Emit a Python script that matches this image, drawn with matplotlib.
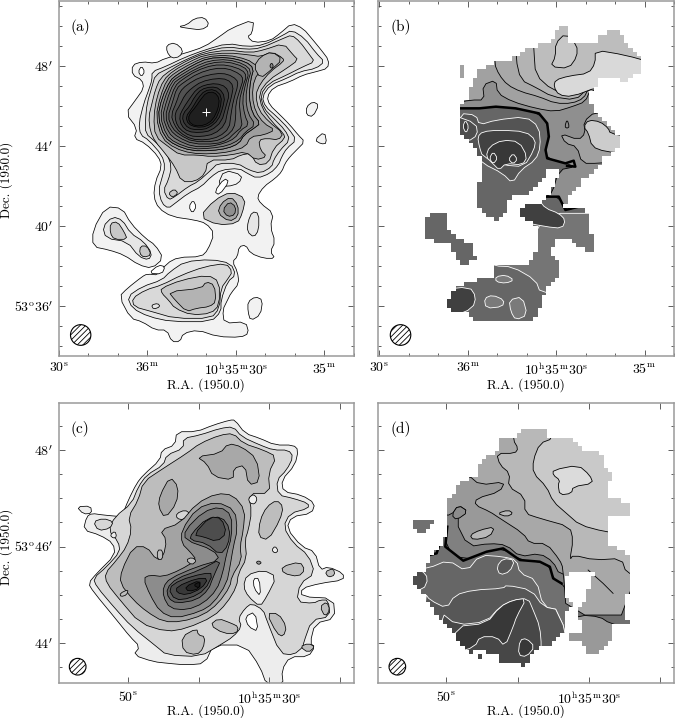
import numpy as np
import matplotlib
matplotlib.use("Agg")
import matplotlib.pyplot as plt
from matplotlib.patches import Polygon, Ellipse
from matplotlib.path import Path

plt.rcParams['font.family'] = ['cmr10', 'DejaVu Serif']
plt.rcParams['mathtext.fontset'] = 'cm'
plt.rcParams['axes.unicode_minus'] = False
plt.rcParams['hatch.linewidth'] = 0.6

# all outlines below are read off the scanned maps, in map pixels
# map pixels -> sky goes through the (x0, xscale, y0, yscale) of each map

# --- map (a): integrated intensity, outer to inner
a_grays = [.95, .90, .85, .78, .70, .62, .55, .49, .44, .40, .36, .32, .28, .24, .20, .16, .12]
a_main = [
 [(400,195),(430,185),(470,190),(500,175),(560,160),(620,140),(665,110),(700,85),(770,58),(765,100),(750,110),(770,128),(820,122),(850,100),(885,70),(920,85),(950,120),(975,150),(998,180),(995,205),(960,215),(920,225),(880,245),(830,262),(810,290),(818,315),(850,345),(880,375),(905,405),(925,425),(900,450),(880,470),(865,490),(855,515),(835,535),(800,560),(780,590),(790,610),(830,640),(820,680),(835,725),(820,755),(835,775),(800,775),(760,760),(745,735),(725,740),(720,770),(705,785),(720,815),(725,850),(700,880),(690,900),(675,930),(680,970),(745,965),(755,1000),(730,1012),(660,1010),(600,990),(555,1000),(545,1025),(520,1025),(505,990),(470,990),(430,965),(395,955),(360,890),(385,865),(430,830),(445,822),(480,825),(505,790),(540,772),(610,770),(630,750),(650,700),(625,670),(590,660),(520,650),(480,625),(465,590),(470,545),(490,500),(480,470),(440,430),(405,415),(415,385),(380,340),(410,300),(435,265),(430,240),(400,225)],
 [(460,215),(500,200),(560,172),(620,150),(690,130),(750,140),(800,135),(860,105),(885,90),(925,115),(960,160),(985,185),(960,205),(910,215),(870,235),(820,255),(795,290),(805,320),(840,350),(875,385),(900,420),(870,445),(855,470),(845,495),(820,520),(780,535),(750,520),(725,505),(670,510),(640,530),(610,560),(570,580),(530,610),(510,625),(490,610),(480,570),(490,535),(500,500),(490,465),(450,420),(425,405),(420,370),(435,310),(450,270),(460,240)],
 [(470,225),(510,205),(565,178),(620,155),(690,140),(745,148),(790,145),(860,115),(885,105),(910,125),(940,165),(955,185),(920,200),(870,225),(815,250),(790,285),(800,325),(830,355),(865,390),(880,420),(850,450),(830,480),(825,500),(790,520),(755,510),(720,490),(660,490),(640,510),(600,545),(570,560),(530,590),(510,600),(495,570),(510,540),(520,500),(505,460),(470,425),(440,400),(440,360),(445,310),(460,260)],
 [(485,235),(520,208),(570,180),(620,160),(690,150),(760,158),(800,150),(860,130),(890,165),(905,180),(870,205),(815,240),(785,280),(795,325),(825,365),(860,400),(865,415),(830,445),(815,490),(780,495),(760,460),(730,465),(700,480),(630,480),(622,522),(590,545),(550,545),(530,500),(500,460),(470,425),(455,395),(450,350),(460,310),(470,270)],
 [(495,240),(525,212),(575,185),(620,165),(690,158),(760,165),(790,170),(825,155),(860,175),(860,185),(820,215),(790,250),(775,285),(785,330),(815,365),(860,400),(845,420),(810,415),(785,420),(790,450),(810,470),(775,480),(745,455),(700,465),(640,470),(600,465),(545,465),(510,440),(470,410),(465,350),(475,290)],
 [(505,240),(530,218),(580,190),(625,170),(690,165),(750,178),(775,195),(795,205),(770,240),(765,290),(775,335),(800,370),(835,390),(800,405),(760,410),(745,440),(700,455),(640,462),(580,460),(530,445),(490,415),(472,350),(485,290)],
 [(515,242),(535,225),(585,195),(630,175),(690,172),(745,185),(770,205),(760,240),(755,290),(765,340),(790,370),(770,385),(740,405),(725,430),(690,445),(640,452),(580,452),(530,435),(497,410),(478,350),(490,295)],
 [(520,245),(540,230),(590,200),(635,182),(690,178),(740,192),(762,212),(752,245),(745,295),(752,340),(775,375),(745,395),(725,420),(690,437),(640,445),(585,447),(530,428),(503,405),(485,350),(497,298)],
 [(525,250),(545,235),(592,207),(640,188),(690,185),(740,200),(755,220),(745,250),(735,300),(742,345),(755,375),(730,390),(712,415),(680,430),(635,440),(585,440),(535,420),(510,398),(492,350),(505,300)],
 [(530,258),(550,240),(595,212),(645,195),(690,195),(735,210),(748,228),(738,255),(725,305),(730,350),(735,380),(710,400),(690,420),(655,432),(585,432),(540,412),(515,390),(500,350),(513,305)],
 [(535,265),(555,248),(600,220),(650,205),(690,205),(728,222),(738,238),(730,262),(715,310),(715,350),(710,385),(685,410),(650,425),(585,425),(545,405),(522,385),(508,350),(522,308)],
 [(545,275),(565,255),(605,232),(655,220),(690,222),(718,238),(722,255),(708,300),(700,345),(695,385),(665,410),(625,420),(580,418),(545,398),(528,375),(518,345),(535,305)],
 [(560,285),(580,265),(610,245),(655,235),(690,238),(708,258),(702,290),(690,335),(682,375),(650,402),(610,410),(575,408),(545,388),(532,365),(530,340),(545,315)],
 [(575,295),(595,268),(620,255),(655,250),(685,260),(695,285),(685,320),(672,365),(640,392),(605,398),(570,395),(550,378),(543,350),(555,325)],
 [(590,290),(610,268),(640,260),(665,265),(682,290),(675,325),(662,360),(632,385),(600,390),(570,385),(553,362),(555,340),(575,318)],
 [(600,295),(620,272),(650,268),(672,288),(668,325),(652,362),(625,380),(595,382),(570,372),(563,350),(582,325)],
 [(607,300),(625,278),(650,276),(665,295),(662,325),(645,360),(620,376),(590,378),(572,365),(572,345),(592,322)],
]
# (gray, outline) for everything off the main peak
a_islands = [
 (.95, [(280,690),(320,620),(370,625),(395,670),(440,715),(470,735),(495,775),(460,805),(420,795),(375,765),(330,750),(280,740)]),
 (.90, [(310,680),(340,650),(370,660),(395,700),(435,725),(460,760),(450,780),(420,770),(385,725),(320,715)]),
 (.78, [(333,670),(355,665),(375,695),(385,718),(345,718),(333,700)]),
 (.78, [(425,738),(445,738),(458,765),(435,772),(422,760)]),
 (1.0, [(450,820),(480,795),(500,800),(490,822)]),
 (.95, [(540,80),(565,75),(590,55),(620,52),(635,75),(610,90),(570,85)]),
 (.95, [(505,135),(530,128),(555,150),(545,170),(520,175),(505,155)]),
 (1.0, [(418,215),(428,198),(438,215),(428,230)]),
 (.95, [(930,320),(950,305),(968,315),(950,350),(930,345)]),
 (.95, [(955,420),(985,395),(992,430),(975,432)]),
 (.95, [(752,905),(775,890),(797,900),(790,945),(760,962),(752,935)]),
 (.90, [(385,890),(430,860),(490,840),(515,815),(560,785),(640,778),(700,790),(715,825),(690,845),(670,900),(670,935),(640,965),(520,965),(450,950),(400,925)]),
 (.85, [(400,895),(440,870),(490,855),(550,825),(620,800),(685,790),(705,815),(690,838),(670,865),(665,925),(640,955),(530,955),(460,935),(405,920)]),
 (.78, [(487,865),(550,840),(630,825),(665,845),(665,915),(640,940),(580,945),(530,925),(510,900),(490,880)]),
 (.70, [(510,875),(610,865),(625,845),(650,855),(655,905),(635,920),(595,925),(565,935),(530,900)]),
 (.90, [(458,915),(478,910),(485,920),(465,928)]),
 (.90, [(752,665),(765,635),(785,640),(785,690),(770,712),(750,695)]),
 (.78, [(605,650),(650,600),(700,575),(745,595),(735,640),(720,670),(660,675)]),
 (.66, [(660,640),(670,610),(700,590),(722,615),(722,650),(695,665)]),
 (.56, [(675,630),(695,605),(715,620),(712,645),(690,650)]),
 (.78, [(510,580),(528,567),(540,580),(522,592)]),
 (1.0, [(572,620),(585,600),(595,620),(583,640)]),
 (.95, [(680,510),(735,525),(725,550),(690,560),(660,555)]),
 (1.0, [(650,575),(680,535),(695,545),(665,585)]),
 (.70, [(790,170),(825,155),(858,178),(820,212),(790,235),(770,200)]),
 (.55, [(818,198),(824,188),(830,198),(824,206)]),
]
a_cross = [(623, 335)]

# --- map (c)
c_islands = [
 (.93, [(690,150),(705,150),(735,190),(780,205),(825,225),(880,225),(895,240),(885,285),(845,330),(850,365),(905,375),(945,400),(935,430),(875,440),(860,475),(905,530),(945,545),(960,600),(985,590),(1030,610),(1030,630),(960,640),(905,655),(905,680),(1000,685),(1005,745),(945,760),(930,820),(945,830),(925,860),(870,860),(845,900),(850,945),(800,945),(780,890),(735,825),(640,825),(615,880),(560,885),(505,880),(460,875),(400,855),(420,830),(390,800),(350,750),(280,665),(265,640),(290,610),(345,555),(340,520),(300,495),(250,480),(260,440),(275,430),(310,435),(365,440),(385,390),(410,340),(430,315),(480,270),(485,240),(525,225),(530,185),(590,185),(640,165)]),
 (.93, [(230,410),(272,408),(275,430),(250,432)]),
 (.84, [(700,170),(725,200),(780,225),(820,240),(865,240),(880,260),(860,300),(830,330),(835,375),(880,385),(925,400),(925,415),(870,430),(850,470),(880,520),(925,555),(945,610),(900,640),(890,695),(940,700),(960,690),(985,690),(990,740),(935,750),(910,820),(910,830),(880,855),(840,850),(800,750),(790,720),(755,700),(735,715),(715,745),(725,770),(700,800),(660,825),(600,860),(500,855),(470,830),(395,770),(345,715),(290,650),(280,625),(320,590),(360,545),(355,515),(325,480),(345,440),(395,400),(415,350),(440,315),(490,285),(500,255),(550,235),(550,205),(600,195),(660,175)]),
 (.84, [(280,455),(310,445),(340,455),(330,475),(295,482)]),
 (.74, [(430,335),(490,295),(560,250),(600,220),(660,195),(700,190),(730,220),(790,240),(830,260),(805,310),(810,370),(745,370),(755,425),(745,480),(735,510),(740,565),(715,610),(710,650),(680,700),(640,740),(560,775),(500,785),(420,760),(360,690),(320,640),(315,610),(350,570),(380,530),(395,480),(385,440),(415,390)]),
 (.66, [(590,260),(660,250),(685,220),(725,230),(770,265),(780,335),(745,345),(735,285),(700,295),(700,330),(640,320),(620,280)]),
 (.66, [(480,375),(510,320),(535,350),(530,400),(495,445),(475,410)]),
 (.84, [(530,430),(555,420),(570,430),(550,450),(530,445)]),
 (.64, [(365,600),(400,530),(440,530),(470,570),(490,560),(500,510),(480,480),(540,460),(590,400),(650,370),(700,375),(735,420),(730,480),(720,530),(725,570),(695,620),(690,650),(655,700),(610,735),(545,755),(490,755),(440,725),(400,690),(360,640)]),
 (.74, [(472,540),(488,540),(488,568),(472,568)]),
 (.74, [(360,670),(385,658),(380,675),(362,680)]),
 (.55, [(430,625),(450,615),(490,620),(540,600),(590,570),(570,545),(545,520),(545,480),(590,415),(650,395),(705,420),(712,480),(700,530),(690,590),(680,640),(640,700),(600,725),(525,745),(480,725),(450,675)]),
 (.47, [(490,650),(510,625),(590,590),(660,570),(640,540),(555,510),(555,480),(610,425),(660,410),(695,435),(695,500),(680,550),(668,610),(650,660),(610,700),(560,720),(510,715),(490,680)]),
 (.74, [(558,570),(575,562),(590,572),(575,585)]),
 (.38, [(575,490),(620,445),(665,440),(690,475),(685,525),(660,555),(620,520),(570,510)]),
 (.38, [(500,655),(530,625),(600,600),(665,565),(640,620),(625,660),(590,690),(530,700),(505,685)]),
 (.30, [(580,495),(630,440),(665,445),(680,490),(650,515),(610,500)]),
 (.30, [(505,655),(540,630),(610,610),(640,610),(615,660),(570,685),(525,690)]),
 (.22, [(530,650),(590,625),(625,625),(605,655),(560,675),(530,668)]),
 (.15, [(555,650),(600,630),(600,655),(565,665)]),
 (.10, [(580,645),(600,635),(598,655)]),
 (.93, [(330,495),(345,483),(350,500),(340,505)]),
 (.93, [(745,385),(760,372),(772,385),(765,402),(750,400)]),
 (.74, [(780,450),(800,410),(830,390),(850,410),(840,450),(805,510),(775,500)]),
 (.93, [(815,540),(825,528),(835,542),(825,550)]),
 (.60, [(768,577),(776,572),(785,578),(776,584)]),
 (.74, [(845,590),(900,575),(915,600),(895,620),(850,610)]),
 (.74, [(975,605),(1000,595),(1005,615),(985,622)]),
 (.74, [(960,710),(980,695),(990,720),(975,740)]),
 (.74, [(900,830),(925,820),(945,830),(925,848)]),
 (.74, [(800,730),(835,730),(860,770),(850,800),(830,790)]),
 (.74, [(545,800),(590,775),(595,795),(615,800),(610,835),(590,855),(550,845)]),
 (.74, [(630,765),(655,745),(695,760),(715,770),(710,790),(670,790)]),
 (.93, [(740,615),(790,600),(830,620),(800,680),(780,710),(745,680),(730,650)]),
 (1.0, [(760,625),(778,625),(782,680),(762,655)]),
 (1.0, [(735,740),(765,725),(775,785),(745,770)]),
]

# --- map (b): region kept after the signal cut, then bands (gray, line colour, outline)
b_regions = [
 [(660,78),(690,90),(690,130),(780,125),(780,105),(800,100),(840,90),(855,120),(880,150),(915,180),(905,215),(860,245),(830,240),(780,240),(760,270),(745,300),(770,340),(810,380),(845,415),(830,450),(790,480),(765,510),(730,540),(690,590),(670,620),(690,625),(735,625),(750,655),(745,680),(765,730),(765,755),(745,762),(715,735),(690,720),(645,720),(635,755),(660,795),(660,825),(620,860),(610,905),(585,960),(470,970),(400,960),(385,935),(340,935),(320,920),(335,870),(390,845),(460,830),(460,798),(570,795),(585,765),(600,730),(600,685),(570,665),(540,655),(545,620),(605,605),(640,565),(660,520),(640,505),(625,515),(590,560),(555,590),(500,595),(495,655),(465,660),(430,640),(408,600),(410,565),(430,530),(430,490),(415,460),(385,415),(360,405),(360,320),(385,290),(395,245),(415,215),(470,185),(520,175),(560,150),(640,120)],
 [(270,635),(318,632),(318,670),(345,710),(395,735),(405,770),(420,778),(390,780),(385,795),(360,795),(350,770),(330,730),(260,720),(250,680),(260,650)],
 [(360,195),(372,195),(372,235),(360,235)],
]
b_base = .40
b_bands = [
 (.56, 'k', [(340,325),(420,325),(470,320),(530,325),(600,340),(625,370),(630,410),(620,450),(625,475),(680,490),(710,500),(660,510),(640,580),(620,590),(660,590),(680,632),(720,620),(950,620),(950,60),(340,60)]),
 (.63, 'k', [(340,310),(395,300),(435,300),(430,255),(470,240),(475,280),(520,305),(590,325),(650,335),(700,320),(740,305),(755,270),(950,200),(950,60),(340,60)]),
 (.66, 'k', [(465,60),(465,190),(480,225),(505,255),(545,275),(600,290),(650,310),(700,310),(735,295),(750,265),(950,200),(950,60)]),
 (.70, 'k', [(530,60),(530,175),(545,240),(590,262),(640,290),(710,300),(745,268),(950,200),(950,60)]),
 (.74, 'k', [(580,60),(585,155),(590,225),(640,270),(710,290),(750,250),(950,200),(950,60)]),
 (.78, 'k', [(650,130),(650,170),(635,200),(690,205),(715,170),(715,135),(680,100)]),
 (.85, 'k', [(645,260),(650,240),(690,228),(750,220),(770,190),(770,150),(860,165),(950,190),(950,260),(780,260),(700,290),(660,285)]),
 (.63, 'k', [(665,400),(680,430),(715,440),(730,490),(780,490),(900,480),(900,330),(770,335),(735,365),(740,400),(720,420)]),
 (.80, 'k', [(735,380),(750,360),(785,365),(810,385),(815,400),(870,410),(870,460),(800,455),(760,440),(750,400)]),
 (.56, 'k', [(678,380),(685,358),(692,380),(685,385)]),
 (.46, 'w', [(465,798),(520,800),(590,840),(605,880),(700,880),(800,700),(800,640),(620,640),(590,700),(440,780)]),
 (.33, 'w', [(360,340),(410,345),(420,375),(470,360),(560,350),(600,380),(605,440),(590,480),(545,510),(520,550),(490,520),(430,490),(350,420)]),
 (.26, 'w', [(415,410),(430,395),(480,390),(560,395),(590,420),(585,450),(555,500),(490,495),(430,470),(420,440)]),
 (.22, 'w', [(450,440),(490,420),(540,425),(565,470),(550,495),(500,490),(480,510),(460,490),(440,470)]),
 (.22, 'w', [(450,475),(462,455),(475,475),(462,492)]),
 (.22, 'w', [(508,478),(522,460),(535,478),(522,492)]),
 (.30, 'w', [(340,345),(410,370),(415,405),(385,425),(340,410)]),
 (.22, 'w', [(370,380),(378,360),(388,380),(380,400)]),
 (.25, 'w', [(300,870),(390,860),(410,890),(400,925),(340,950),(300,950)]),
 (.25, 'w', [(620,625),(660,640),(680,660),(670,685),(620,680),(520,660),(520,610),(600,600)]),
 (.48, 'w', [(435,895),(460,885),(495,900),(490,920),(440,925)]),
 (.48, 'w', [(510,900),(550,890),(565,945),(530,960),(515,935)]),
 (.48, 'w', [(470,830),(500,825),(525,840),(500,850),(470,845)]),
]
b_thick = [
 [(360,325),(420,325),(470,320),(530,325),(600,340),(625,370),(630,410),(620,450),(625,475),(680,490),(705,482),(710,500),(685,498)],
 [(620,590),(660,590),(680,630),(720,620)],
]

# --- map (d)
d_regions = [
 [(560,178),(620,178),(620,205),(700,205),(730,235),(780,240),(795,290),(815,320),(800,335),(800,380),(865,395),(865,430),(800,430),(800,520),(810,530),(860,540),(865,640),(850,740),(875,760),(850,765),(815,765),(815,800),(790,830),(775,855),(745,855),(735,820),(685,815),(680,795),(725,785),(720,760),(710,715),(740,690),(745,640),(770,605),(690,605),(670,620),(670,680),(695,700),(670,725),(670,780),(640,815),(600,830),(550,885),(480,880),(480,860),(420,840),(385,850),(340,790),(300,750),(255,680),(240,655),(215,640),(215,620),(260,595),(265,560),(300,530),(325,470),(325,395),(360,330),(410,320),(410,285),(480,235),(480,200),(535,205),(535,185)],
 [(217,445),(280,445),(288,460),(240,490),(217,475)],
 [(408,850),(420,850),(420,870),(408,870)],
]
d_base = .44
d_bands = [
 (.50, 'k', [(250,430),(322,470),(316,530),(370,572),(440,545),(490,535),(540,570),(600,575),(630,590),(640,625),(665,640),(680,660),(900,660),(900,150),(200,150),(200,430)]),
 (.60, 'k', [(300,435),(335,435),(355,405),(385,425),(345,450),(385,530),(450,520),(500,525),(540,560),(600,550),(640,575),(660,615),(900,700),(900,150),(300,150)]),
 (.66, 'k', [(360,330),(385,315),(420,345),(495,335),(480,365),(410,385),(405,405),(450,425),(480,445),(550,490),(570,520),(620,520),(660,570),(670,595),(680,735),(900,735),(900,150),(360,150)]),
 (.60, 'k', [(720,735),(780,740),(810,760),(860,770),(900,800),(900,900),(660,900),(680,760)]),
 (.72, 'k', [(520,150),(520,210),(535,235),(525,250),(470,250),(480,285),(510,310),(505,350),(555,380),(555,430),(600,445),(690,470),(700,510),(690,570),(700,555),(765,570),(845,565),(860,610),(900,610),(900,150)]),
 (.79, 'k', [(640,150),(640,205),(600,220),(580,270),(580,310),(620,350),(640,395),(680,430),(720,465),(795,485),(900,500),(900,150)]),
 (.86, 'k', [(640,300),(715,285),(750,315),(760,340),(700,350),(695,370),(660,375),(655,345),(660,330),(640,315)]),
 (.72, 'k', [(390,495),(420,480),(465,470),(450,500),(400,510)]),
 (.72, 'k', [(472,430),(505,420),(520,430),(500,440)]),
 (.55, 'k', [(335,435),(355,405),(385,425),(350,450)]),
 (.40, 'w', [(200,600),(265,595),(325,570),(380,605),(420,555),(490,560),(530,570),(540,610),(590,630),(610,710),(660,720),(700,900),(200,900)]),
 (.34, 'w', [(470,590),(490,565),(525,570),(510,605),(480,615)]),
 (.34, 'w', [(255,670),(270,690),(320,715),(345,675),(400,660),(490,655),(500,645),(575,660),(610,710),(660,720),(700,900),(250,900)]),
 (.28, 'w', [(300,725),(350,765),(440,755),(480,710),(520,690),(565,685),(580,720),(600,770),(605,830),(600,900),(300,900)]),
 (.22, 'w', [(345,770),(440,760),(480,710),(520,690),(560,685),(530,740),(520,770),(495,830),(470,800),(420,800),(405,830),(345,850)]),
 (.22, 'w', [(535,855),(540,810),(560,805),(585,830),(560,860)]),
 (.30, 'w', [(200,600),(245,600),(265,625),(250,660),(200,660)]),
]
d_thick = [
 [(322,470),(316,530),(370,572),(440,545),(490,535),(540,570),(600,575),(630,590),(640,625),(665,640)],
 [(268,555),(290,550),(298,525)],
]
# thin black contour in the east part of (d) that closes nothing
d_thin = [(745,600),(790,640),(820,670)]

# map pixel scales and frame edges
a_wcs = (985, 8.98, 198, 60.0)
b_wcs = (919, 8.90, 198, 60.0)
c_wcs = (808+30*21.25, 21.25, 241, 144.25)
d_wcs = (747+30*21.37, 21.37, 241, 144.25)
frame_top = (1.5, 1068)
frame_low = (98, 938)

top_ra_ticks = [90, 60, 30, 0]
top_ra_labels = [r'30$^{\rm s}$', r'36$^{\rm m}$', r'10$^{\rm h}$35$^{\rm m}$30$^{\rm s}$', r'35$^{\rm m}$']
top_dec_ticks = [48, 44, 40, 36]
top_dec_labels = [r"48$'$", r"44$'$", r"40$'$", r"53$^{\rm o}$36$'$"]
low_ra_ticks = [50, 40, 30, 20]
low_ra_labels = [r'50$^{\rm s}$', '', r'10$^{\rm h}$35$^{\rm m}$30$^{\rm s}$', '']
low_dec_ticks = [48, 46, 44]
low_dec_labels = [r"48$'$", r"53$^{\rm o}$46$'$", r"44$'$"]


def sky(pts, wcs, dec0):
    pts = np.array(pts, dtype=float)
    ra = (wcs[0]-pts[:, 0])/wcs[1]
    dec = dec0-(pts[:, 1]-wcs[2])/wcs[3]
    return np.column_stack([ra, dec])


def rounded(pts, n=1):
    # corner cutting, the contours in the scan are round not angular
    p = np.array(pts, dtype=float)
    for i in range(n):
        q = np.roll(p, -1, axis=0)
        p = np.column_stack([0.75*p+0.25*q, 0.25*p+0.75*q]).reshape(-1, 2)
    return p


def frame(ax, wcs, dec0, xl, xr, yr):
    lim = sky([(xl, yr[1]), (xr, yr[0])], wcs, dec0)
    ax.set_xlim(lim[0, 0], lim[1, 0])
    ax.set_ylim(lim[0, 1], lim[1, 1])
    for s in ax.spines.values():
        s.set_color('#9a9a9a')
        s.set_linewidth(1.1)
    ax.tick_params(which='both', direction='in', top=True, right=True, color='#444444', width=0.6)
    ax.tick_params(which='major', length=4.5, labelsize=10, pad=4)
    ax.tick_params(which='minor', length=2.5)


def beam(ax, wcs, dec0, x, y, r):
    c = sky([(x, y)], wcs, dec0)[0]
    ax.add_patch(Ellipse(c, 2*r/wcs[1], 2*r/wcs[3], facecolor='white', edgecolor='k',
                         hatch='//////', linewidth=0.8, zorder=4))


def blocks(ax, wcs, dec0, regions, xl, xr, yr):
    # the masked maps are pixelated, keep that look with coarse cells
    size = 13
    xs = np.arange(xl, xr+size, size)
    ys = np.arange(yr[0], yr[1]+size, size)
    gx, gy = np.meshgrid(xs[:-1]+size/2, ys[:-1]+size/2)
    cells = np.column_stack([gx.ravel(), gy.ravel()])
    keep = np.zeros(len(cells), dtype=bool)
    for r in regions:
        keep |= Path(r).contains_points(cells)
    keep = keep.reshape(gx.shape)
    rgba = np.ones(keep.shape+(4,))
    rgba[keep, 3] = 0
    e = sky([(xs[0], ys[-1]), (xs[-1], ys[0])], wcs, dec0)
    ax.imshow(rgba, extent=(e[0, 0], e[1, 0], e[0, 1], e[1, 1]), origin='upper', aspect='auto',
              interpolation='nearest', zorder=1.5)


def bands(ax, wcs, dec0, base, band_list, thick):
    ax.set_facecolor(str(base))
    for g, col, pts in band_list:
        ax.add_patch(Polygon(sky(rounded(pts), wcs, dec0), closed=True, facecolor=str(g), edgecolor=col,
                             linewidth=0.6, zorder=1))
    for line in thick:
        xy = sky(line, wcs, dec0)
        ax.plot(xy[:, 0], xy[:, 1], color='k', lw=1.8, zorder=1.2)


def contour_patch(ax, g, pts, wcs):
    ax.add_patch(Polygon(sky(rounded(pts), wcs, 48), closed=True, facecolor=str(g), edgecolor='k', linewidth=0.55))


W, H = 675, 718
fig = plt.figure(figsize=(W/100, H/100), dpi=100)


def make_ax(l, r, t, b):
    return fig.add_axes([l/W, 1-b/H, (r-l)/W, (b-t)/H])


axa = make_ax(58.5, 354, 0.5, 356)
axb = make_ax(377.7, 674, 0.5, 356)
axc = make_ax(58.5, 354, 402.7, 682.7)
axd = make_ax(377.7, 674, 402.7, 682.7)

# (a)
for g, pts in zip(a_grays, a_main):
    contour_patch(axa, g, pts, a_wcs)
for g, pts in a_islands:
    contour_patch(axa, g, pts, a_wcs)
# peak contours sit on top of the north-east lobe
for g, pts in list(zip(a_grays, a_main))[6:]:
    contour_patch(axa, g, pts, a_wcs)
cross = sky(a_cross, a_wcs, 48)
axa.plot(cross[:, 0], cross[:, 1], marker='+', color='white', ms=6, mew=0.7, zorder=3)
frame(axa, a_wcs, 48, 175.5, 1062, frame_top)
beam(axa, a_wcs, 48, 243, 1005, 31)

# (b)
bands(axb, b_wcs, 48, b_base, b_bands, b_thick)
blocks(axb, b_wcs, 48, b_regions, 113, 1003, frame_top)
frame(axb, b_wcs, 48, 113, 1003, frame_top)
beam(axb, b_wcs, 48, 182, 1005, 31)

# (c)
for g, pts in c_islands:
    contour_patch(axc, g, pts, c_wcs)
frame(axc, c_wcs, 48, 175.5, 1062, frame_low)
beam(axc, c_wcs, 48, 233, 890, 25)

# (d)
bands(axd, d_wcs, 48, d_base, d_bands, d_thick)
thin = sky(d_thin, d_wcs, 48)
axd.plot(thin[:, 0], thin[:, 1], color='k', lw=0.6, zorder=1.2)
blocks(axd, d_wcs, 48, d_regions, 113, 1003, frame_low)
frame(axd, d_wcs, 48, 113, 1003, frame_low)
beam(axd, d_wcs, 48, 172, 890, 25)

for ax in (axa, axb):
    ax.set_xticks(top_ra_ticks)
    ax.set_xticks(np.arange(-10, 100, 10), minor=True)
    ax.set_yticks(top_dec_ticks)
    ax.set_yticks(np.arange(34, 52), minor=True)
    ax.set_xticklabels(top_ra_labels)
axa.set_yticklabels(top_dec_labels)
axb.set_yticklabels([])

for ax in (axc, axd):
    ax.set_xticks(low_ra_ticks)
    ax.set_xticklabels(low_ra_labels)
    ax.tick_params(axis='x', which='major', pad=5.5)
    ax.set_yticks(low_dec_ticks)
    ax.set_yticks(np.arange(43.5, 49, 0.5), minor=True)
axc.set_yticklabels(low_dec_labels)
axd.set_yticklabels([])

fig.text(6.5/W, 1-180/H, 'Dec. (1950.0)', rotation=90, fontsize=9.5, ha='center', va='center')
fig.text(6.5/W, 1-547/H, 'Dec. (1950.0)', rotation=90, fontsize=9.5, ha='center', va='center')
fig.text(206/W, 1-385/H, 'R.A. (1950.0)', fontsize=9.5, ha='center', va='center')
fig.text(526/W, 1-385/H, 'R.A. (1950.0)', fontsize=9.5, ha='center', va='center')
fig.text(206/W, 1-711/H, 'R.A. (1950.0)', fontsize=9.5, ha='center', va='center')
fig.text(526/W, 1-711/H, 'R.A. (1950.0)', fontsize=9.5, ha='center', va='center')

for ax, t, y in ((axa, '(a)', 0.925), (axb, '(b)', 0.925), (axc, '(c)', 0.905), (axd, '(d)', 0.905)):
    ax.text(0.042, y, t, transform=ax.transAxes, fontsize=11, ha='left', va='center', zorder=5)

fig.savefig('out.png', dpi=100)
